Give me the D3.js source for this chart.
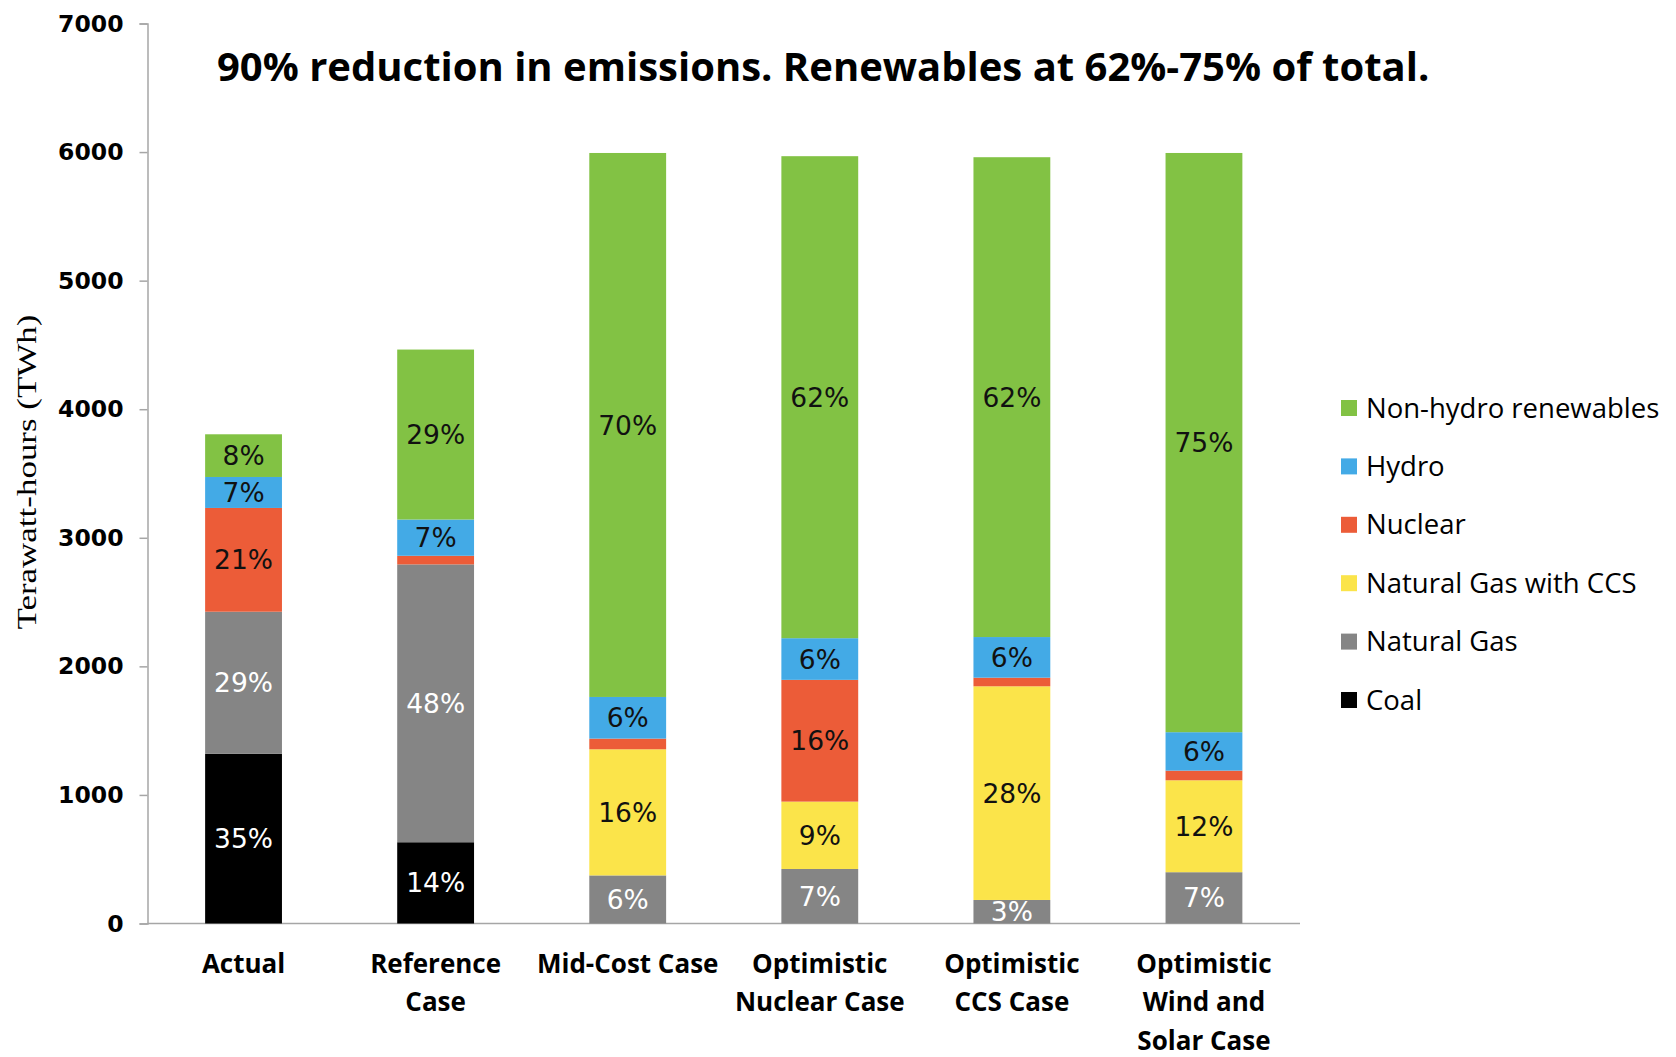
<!DOCTYPE html>
<html>
<head>
<meta charset="utf-8">
<script src="https://cdn.jsdelivr.net/npm/d3@7"></script>
<style>
  body { margin: 0; background: #fff; }
  svg { display: block; }
</style>
</head>
<body>
<div id="chart"></div>
<script>
// data (TWh)
let cases = ['Actual', 'Reference Case', 'Mid-Cost Case', 'Optimistic Nuclear Case', 'Optimistic CCS Case', 'Optimistic Wind and Solar Case'];
let caseLines = [['Actual'], ['Reference', 'Case'], ['Mid-Cost Case'], ['Optimistic', 'Nuclear Case'], ['Optimistic', 'CCS Case'], ['Optimistic', 'Wind and', 'Solar Case']];
let sources = ['Coal', 'Natural Gas', 'Natural Gas with CCS', 'Nuclear', 'Hydro', 'Non-hydro renewables'];
let coal      = [1320, 632, 0, 0, 0, 0];
let natGas    = [1105, 2161, 374, 424, 183, 399];
let natGasCCS = [0, 0, 981, 524, 1662, 715];
let nuclear   = [807, 67, 83, 947, 67, 75];
let hydro     = [241, 282, 324, 324, 316, 299];
let renew     = [332, 1322, 4231, 3749, 3732, 4505];
// percentage labels printed in the segments ('' = no label)
let pctLabels = [
  ['35%', '14%', '', '', '', ''],
  ['29%', '48%', '6%', '7%', '3%', '7%'],
  ['', '', '16%', '9%', '28%', '12%'],
  ['21%', '', '', '16%', '', ''],
  ['7%', '7%', '6%', '6%', '6%', '6%'],
  ['8%', '29%', '70%', '62%', '62%', '75%']
];
let yTicks = [0, 1000, 2000, 3000, 4000, 5000, 6000, 7000];

let colors = ['#000000', '#858585', '#fbe44a', '#ec5c38', '#43aae6', '#82c244'];
let labelColors = ['#fff', '#fff', '#111', '#111', '#111', '#111'];

let svgWidth = 1676;
let svgHeight = 1057;
let margin = { top: 23.5, left: 147.5 };
let width = 1300 - margin.left;
let height = 923.5 - margin.top;

let svg = d3.select('#chart').append('svg')
  .attr('width', svgWidth)
  .attr('height', svgHeight);

let chartGroup = svg.append('g')
  .attr('transform', `translate(${margin.left},${margin.top})`);

let series = [coal, natGas, natGasCCS, nuclear, hydro, renew];
let table = cases.map((c, i) => {
  let row = { name: c, idx: i };
  sources.forEach((s, k) => row[s] = series[k][i]);
  return row;
});
let stacked = d3.stack().keys(sources)(table);

let x = d3.scaleBand().domain(cases).range([0, width]).paddingInner(0.6).paddingOuter(0.3);
let y = d3.scaleLinear().domain([0, 7000]).range([height, 0]);

// y axis
let yAxis = chartGroup.append('g')
  .call(d3.axisLeft(y).tickValues(yTicks).tickSize(8).tickPadding(16).tickFormat(d3.format('d')));
yAxis.select('.domain').attr('stroke', '#a6a6a6').attr('stroke-width', 1.5);
yAxis.selectAll('.tick line').attr('stroke', '#a6a6a6').attr('stroke-width', 1.5);
yAxis.selectAll('text')
  .attr('font-family', 'DejaVu Sans')
  .attr('font-weight', 'bold')
  .attr('font-size', 23.5)
  .attr('fill', '#000');

// x axis line
chartGroup.append('line')
  .attr('x1', 0).attr('x2', width)
  .attr('y1', height).attr('y2', height)
  .attr('stroke', '#a6a6a6').attr('stroke-width', 1.5);

// bars
let layers = chartGroup.selectAll('g.layer')
  .data(stacked)
  .enter().append('g')
  .attr('class', 'layer')
  .attr('fill', (d, i) => colors[i]);

layers.selectAll('rect')
  .data(d => d)
  .enter().append('rect')
  .attr('x', d => x(d.data.name))
  .attr('width', x.bandwidth())
  .attr('y', d => y(d[1]))
  .attr('height', d => y(d[0]) - y(d[1]));

// segment labels
stacked.forEach((layer, k) => {
  chartGroup.append('g').selectAll('text')
    .data(layer.filter(d => pctLabels[k][d.data.idx] !== ''))
    .enter().append('text')
    .attr('x', d => x(d.data.name) + x.bandwidth() / 2)
    .attr('y', d => (y(d[0]) + y(d[1])) / 2)
    .attr('dy', '0.36em')
    .attr('text-anchor', 'middle')
    .attr('font-family', 'DejaVu Sans')
    .attr('font-size', 26.5)
    .attr('fill', labelColors[k])
    .text(d => pctLabels[k][d.data.idx]);
});

// category labels
let catGroup = chartGroup.append('g');
cases.forEach((c, i) => {
  let t = catGroup.append('text')
    .attr('x', x(c) + x.bandwidth() / 2)
    .attr('y', height + 49)
    .attr('text-anchor', 'middle')
    .attr('font-family', 'Open Sans')
    .attr('font-weight', 'bold')
    .attr('font-size', 26)
    .attr('fill', '#000');
  caseLines[i].forEach((line, j) => {
    t.append('tspan')
      .attr('x', x(c) + x.bandwidth() / 2)
      .attr('dy', j === 0 ? 0 : 38.5)
      .text(line);
  });
});

// y axis title
svg.append('text')
  .attr('transform', 'translate(36,472) rotate(-90)')
  .attr('text-anchor', 'middle')
  .attr('font-family', 'Liberation Serif')
  .attr('font-size', 27)
  .attr('textLength', 315)
  .attr('lengthAdjust', 'spacingAndGlyphs')
  .attr('fill', '#000')
  .text('Terawatt-hours (TWh)');

// title
svg.append('text')
  .attr('x', 217)
  .attr('y', 81)
  .attr('font-family', 'Open Sans')
  .attr('font-weight', 'bold')
  .attr('font-size', 40)
  .attr('fill', '#000')
  .text('90% reduction in emissions. Renewables at 62%-75% of total.');

// legend (top to bottom: renewables first)
let legendItems = sources.slice().reverse();
let legendColors = colors.slice().reverse();
let legend = svg.append('g').attr('transform', 'translate(1341,408)');
legendItems.forEach((s, i) => {
  let row = legend.append('g').attr('transform', `translate(0,${i * 58.4})`);
  row.append('rect')
    .attr('x', 0).attr('y', -8)
    .attr('width', 16).attr('height', 16)
    .attr('fill', legendColors[i]);
  row.append('text')
    .attr('x', 25)
    .attr('y', 0)
    .attr('dy', '0.35em')
    .attr('font-family', 'Open Sans')
    .attr('font-size', 27.5)
    .attr('fill', '#000')
    .text(s);
});
</script>
</body>
</html>
